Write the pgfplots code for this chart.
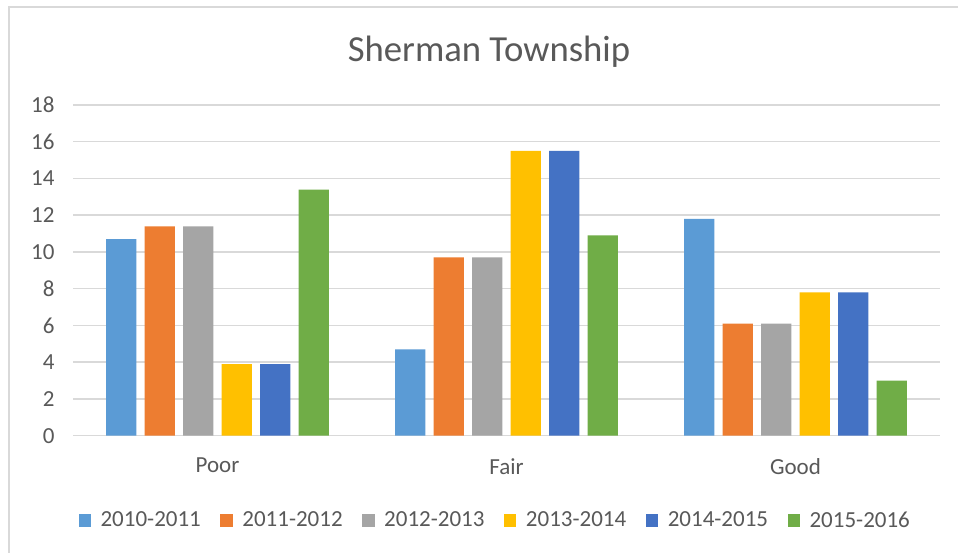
\documentclass[border=0pt]{standalone}
\usepackage{pgfplots}
\pgfplotsset{compat=1.18}
\usepackage{fontspec}
\setmainfont{Carlito}
\definecolor{c1}{HTML}{5B9BD5}
\definecolor{c2}{HTML}{ED7D31}
\definecolor{c3}{HTML}{A5A5A5}
\definecolor{c4}{HTML}{FFC000}
\definecolor{c5}{HTML}{4472C4}
\definecolor{c6}{HTML}{70AD47}
\definecolor{gridgray}{HTML}{D9D9D9}
\definecolor{txt}{HTML}{595959}
\begin{document}
\begin{tikzpicture}[x=1pt,y=1pt]
\useasboundingbox (0,0) rectangle (958,552);
\fill[white] (0,0) rectangle (958,552);
\draw[line width=2pt, color=gridgray] (9,-10) -- (9,545) -- (970,545);
\node[anchor=base, text=txt, font=\fontsize{36.7}{44}\selectfont] at (489,490) {Sherman Township};
\begin{axis}[
  at={(73pt,116.3pt)}, anchor=south west,
  scale only axis, width=867pt, height=330.7pt,
  ybar=8.2pt, bar width=30.3pt,
  xmin=-0.5, xmax=2.5, ymin=0, ymax=18,
  enlargelimits=false,
  xtick={0,1,2}, xticklabels={Poor,Fair,Good},
  ytick={0,2,...,18},
  ymajorgrids, major grid style={draw=gridgray, line width=1.5pt},
  axis line style={draw=none},
  major tick length=0pt, tick style={draw=none},
  ticklabel style={font=\fontsize{23}{27}\selectfont, text=txt},
  /pgf/number format/assume math mode=true,
  yticklabel style={xshift=-15pt},
  xticklabel style={yshift=-19pt},
  legend image code/.code={\fill[#1,draw=none] (0pt,-6.5pt) rectangle (12.5pt,6.5pt);},
  legend columns=6,
  legend style={at={(0.487,-0.255)}, anchor=center, draw=none, fill=none,
    font=\fontsize{23}{27}\selectfont, text=txt,
    /tikz/every odd column/.append style={column sep=7.5pt},
    /tikz/every even column/.append style={column sep=17.5pt}},
]
\addplot[fill=c1, draw=none] coordinates {(0,10.7) (1,4.7) (2,11.8)};
\addplot[fill=c2, draw=none] coordinates {(0,11.4) (1,9.7) (2,6.1)};
\addplot[fill=c3, draw=none] coordinates {(0,11.4) (1,9.7) (2,6.1)};
\addplot[fill=c4, draw=none] coordinates {(0,3.9) (1,15.5) (2,7.8)};
\addplot[fill=c5, draw=none] coordinates {(0,3.9) (1,15.5) (2,7.8)};
\addplot[fill=c6, draw=none] coordinates {(0,13.4) (1,10.9) (2,3.0)};
\legend{2010-2011,2011-2012,2012-2013,2013-2014,2014-2015,2015-2016}
\end{axis}
\end{tikzpicture}
\end{document}
